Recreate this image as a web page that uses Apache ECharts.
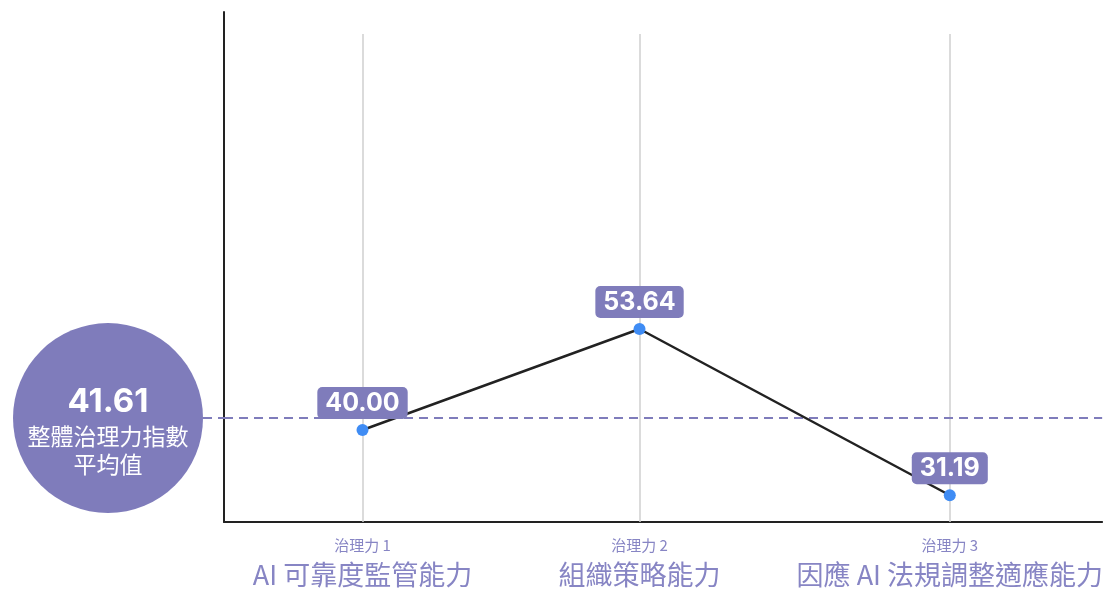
<!DOCTYPE html>
<html>
<head>
<meta charset="utf-8">
<script src="https://cdn.jsdelivr.net/npm/echarts@6/dist/echarts.min.js"></script>
<style>
  html, body { margin: 0; padding: 0; background: #ffffff; }
  #chart { width: 1106px; height: 590px; }
</style>
</head>
<body>
<div id="chart"></div>
<script>
// ---- data ----
const categories = ['AI 可靠度監管能力', '組織策略能力', '因應 AI 法規調整適應能力'];
const codes = ['治理力 1', '治理力 2', '治理力 3'];
const values = [40.00, 53.64, 31.19];
const average = 41.61;
const averageText = ['整體治理力指數', '平均值'];
const xPositions = [0.5, 1.5, 2.62];

// ---- layout / style ----
const X_MIN = 0, X_MAX = 3.17;
const Y_MIN = 27.58, Y_MAX = 96.45;
const GRID_LINE_TOP = 93.48;
const PURPLE = '#7f7cbb';
const LABEL_PURPLE = '#8785c4';
const CJK = '"Noto Sans CJK TC", "Noto Sans", sans-serif';
const NUM = 'Inter, "Noto Sans", sans-serif';

const chart = echarts.init(document.getElementById('chart'), null, { renderer: 'canvas' });

function nearestIndex(v) {
  let best = 0, d = Infinity;
  xPositions.forEach((x, i) => { const dd = Math.abs(x - v); if (dd < d) { d = dd; best = i; } });
  return best;
}

chart.setOption({
  backgroundColor: '#ffffff',
  animation: false,
  grid: { left: 224, right: 0, top: 12, bottom: 68, containLabel: false },
  xAxis: {
    type: 'value',
    min: X_MIN,
    max: X_MAX,
    axisLine: { show: true, lineStyle: { color: '#222222', width: 2 } },
    axisTick: { show: false },
    splitLine: { show: false },
    axisLabel: {
      customValues: xPositions,
      margin: 12,
      formatter: function (v) {
        const i = nearestIndex(v);
        return '{a|' + codes[i] + '}\n{b|' + categories[i] + '}';
      },
      rich: {
        a: { fontSize: 15, lineHeight: 22, color: LABEL_PURPLE, fontFamily: CJK, align: 'center' },
        b: { fontSize: 27, lineHeight: 38, color: LABEL_PURPLE, fontFamily: CJK, align: 'center' }
      }
    }
  },
  yAxis: {
    type: 'value',
    min: Y_MIN,
    max: Y_MAX,
    axisLine: { show: true, lineStyle: { color: '#222222', width: 2 } },
    axisTick: { show: false },
    axisLabel: { show: false },
    splitLine: { show: false }
  },
  series: [
    {
      type: 'line',
      data: [],
      z: 1,
      silent: true,
      markLine: {
        silent: true,
        z: 1,
        symbol: 'none',
        animation: false,
        label: { show: false },
        data: xPositions.map(x => [
          { coord: [x, Y_MIN], lineStyle: { color: '#cfcfcf', width: 1.5, type: 'solid' } },
          { coord: [x, GRID_LINE_TOP] }
        ]).concat([
          { yAxis: average, lineStyle: { color: PURPLE, width: 2, type: [9, 6] } }
        ])
      }
    },
    {
      type: 'line',
      z: 3,
      data: xPositions.map((x, i) => [x, values[i]]),
      symbol: 'circle',
      symbolSize: 12,
      itemStyle: { color: '#3f8cf4' },
      lineStyle: { color: '#222222', width: 2.5 },
      label: {
        show: true,
        position: 'top',
        distance: 5,
        formatter: p => values[p.dataIndex].toFixed(2),
        backgroundColor: PURPLE,
        borderRadius: 5,
        padding: [4, 8, 3, 8],
        color: '#ffffff',
        fontSize: 25,
        fontWeight: 700,
        fontFamily: NUM
      }
    }
  ]
});

// Average badge, placed at the pixel height of the average value
const yPix = chart.convertToPixel({ yAxisIndex: 0 }, average);
const leftPix = chart.convertToPixel({ xAxisIndex: 0 }, X_MIN);
const cx = 108, r = 95;
chart.setOption({
  graphic: [
    {
      type: 'line',
      shape: { x1: cx + r, y1: yPix, x2: leftPix, y2: yPix },
      style: { stroke: PURPLE, lineWidth: 2, lineDash: [9, 6] },
      z: 2
    },
    {
      type: 'circle',
      shape: { cx: cx, cy: yPix, r: r },
      style: { fill: PURPLE },
      z: 5
    },
    {
      type: 'text',
      x: cx,
      y: yPix - 37,
      z: 6,
      style: {
        text: '{n|' + average.toFixed(2) + '}\n{t|' + averageText[0] + '}\n{t|' + averageText[1] + '}',
        align: 'center',
        verticalAlign: 'top',
        fill: '#ffffff',
        rich: {
          n: { fontSize: 33, fontWeight: 700, lineHeight: 41, fill: '#ffffff', fontFamily: NUM, align: 'center' },
          t: { fontSize: 23, lineHeight: 28, fill: '#ffffff', fontFamily: CJK, align: 'center' }
        }
      }
    }
  ]
});
</script>
</body>
</html>
